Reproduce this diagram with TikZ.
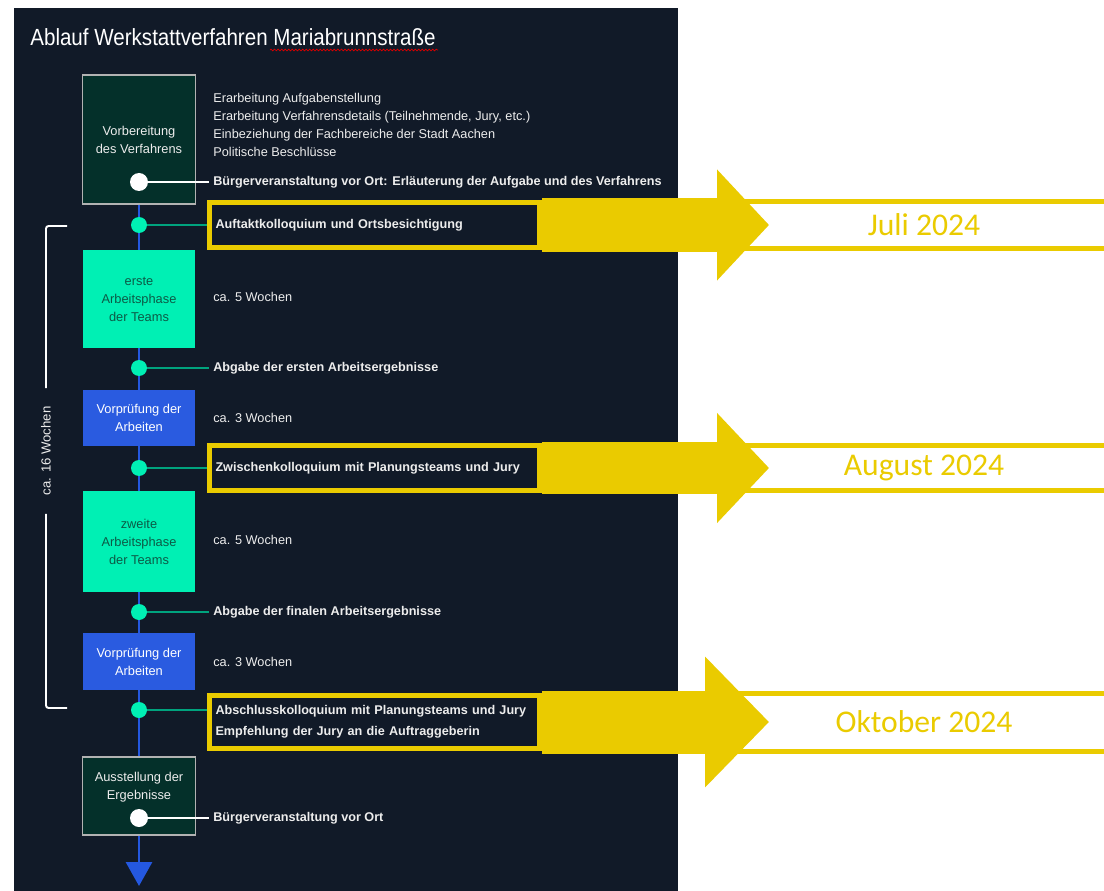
\documentclass[tikz,border=0pt]{standalone}
\usepackage{fontspec}
\setmainfont{Liberation Sans}
\newfontfamily\titlefont{Liberation Sans}[FakeStretch=0.88]
\newfontfamily\datefont{Carlito}
\usetikzlibrary{arrows.meta,decorations.pathmorphing}
\definecolor{panel}{HTML}{111A28}
\definecolor{deepgreen}{HTML}{04302A}
\definecolor{mint}{HTML}{00F0B4}
\definecolor{mintline}{HTML}{00A37E}
\definecolor{spineblue}{HTML}{2458E0}
\definecolor{boxblue}{HTML}{2A5BE0}
\definecolor{gold}{HTML}{EACB00}
\definecolor{phasetext}{HTML}{0C5A46}
\definecolor{softwhite}{HTML}{EDEDED}

\begin{document}
\begin{tikzpicture}[x=0.02cm,y=-0.02cm,
		phase/.style={minimum width=2.26cm,align=center,inner sep=0pt,font=\fontsize{7.3}{10.2}\selectfont},
		dot/.style={circle,fill=mint,minimum size=0.32cm,inner sep=0pt},
		wdot/.style={circle,fill=white,minimum size=0.36cm,inner sep=0pt},
		note/.style={anchor=west,text=softwhite,inner sep=0.08cm,align=left,font=\fontsize{7.25}{10.2}\selectfont},
		keynote/.style={note,font=\bfseries\fontsize{7.2}{11.9}\selectfont},
		kframe/.style={keynote,draw=gold,line width=0.1cm,text width=6.36cm,inner xsep=0.13cm,minimum height=0.9cm},
		datebox/.style={draw=gold,fill=white,line width=0.1cm,minimum width=7.54cm,text=gold,font=\datefont\fontsize{18}{20}\selectfont},
		spine/.style={spineblue,line width=1.7pt},
		tick/.style={mintline,line width=0.8pt},
		wtick/.style={white,line width=0.8pt},
		bracket/.style={white,line width=1.1pt,rounded corners=1.5pt}]
	\useasboundingbox (0,0) rectangle (1104,891);
	\fill[white] (0,0) rectangle (1104,891);
	\fill[panel] (14,8) rectangle (678,891);
	\node[anchor=west,text=white,inner sep=0pt,font=\titlefont\fontsize{13.3}{15}\selectfont] (title) at (30,37) {Ablauf Werkstattverfahren Mariabrunnstraße};
	\draw[red!85!black,line width=0.4pt,decorate,decoration={snake,amplitude=0.5pt,segment length=2pt}] (270,50) -- (438,50);

	\node[phase,fill=deepgreen,draw=gray!60,line width=0.85pt,minimum height=2.58cm,text=softwhite] (prep) at (139,139.5) {Vorbereitung\\des Verfahrens};
	\node[wdot] (w1) at (139,182) {};
	\node[note] (tasks) at (209,125) {Erarbeitung Aufgabenstellung\\Erarbeitung Verfahrensdetails (Teilnehmende, Jury, etc.)\\Einbeziehung der Fachbereiche der Stadt Aachen\\Politische Beschlüsse};
	\node[keynote] (b1) at (209,182) {Bürgerveranstaltung vor Ort: Erläuterung der Aufgabe und des Verfahrens};
	\draw[wtick] (w1) -- (b1);

	\node[dot] (d1) at (139,225) {};
	\node[kframe] (k1) at (206.5,225) {Auftaktkolloquium und Ortsbesichtigung};
	\draw[tick] (d1) -- (k1);
	\node[datebox,minimum height=0.94cm] (jul) at (924,225) {Juli 2024};
	\draw[gold,line width=1.08cm,-{Triangle[width=2.16cm,length=1.04cm]},shorten >=-0.72cm] (k1) -- (jul);

	\node[phase,fill=mint,text=phasetext,minimum height=1.96cm] (ph1) at (139,299) {erste\\Arbeitsphase\\der Teams};
	\node[note] (w5a) at (209,297) {ca. 5 Wochen};
	\node[dot] (d2) at (139,368) {};
	\node[keynote] (a1) at (209,368) {Abgabe der ersten Arbeitsergebnisse};
	\draw[tick] (d2) -- (a1);
	\node[phase,fill=boxblue,text=white,minimum height=1.12cm] (vp1) at (139,418) {Vorprüfung der\\Arbeiten};
	\node[note] (w3a) at (209,418) {ca. 3 Wochen};

	\node[dot] (d3) at (139,468) {};
	\node[kframe] (k2) at (206.5,468) {Zwischenkolloquium mit Planungsteams und Jury};
	\draw[tick] (d3) -- (k2);
	\node[datebox,minimum height=0.9cm] (aug) at (924,468) {August 2024};
	\draw[gold,line width=1.06cm,-{Triangle[width=2.14cm,length=1.04cm]},shorten >=-0.72cm] (k2) -- (aug);

	\node[phase,fill=mint,text=phasetext,minimum height=2.02cm] (ph2) at (139,541.5) {zweite\\Arbeitsphase\\der Teams};
	\node[note] (w5b) at (209,540) {ca. 5 Wochen};
	\node[dot] (d4) at (139,612) {};
	\node[keynote] (a2) at (209,612) {Abgabe der finalen Arbeitsergebnisse};
	\draw[tick] (d4) -- (a2);
	\node[phase,fill=boxblue,text=white,minimum height=1.14cm] (vp2) at (139,661.5) {Vorprüfung der\\Arbeiten};
	\node[note] (w3b) at (209,662) {ca. 3 Wochen};

	\node[dot] (d5) at (139,710) {};
	\node[kframe,minimum height=1.06cm] (k3) at (206.5,722) {Abschlusskolloquium mit Planungsteams und Jury\\Empfehlung der Jury an die Auftraggeberin};
	\draw[tick] (d5) -- (d5 -| k3.west);
	\node[datebox,minimum height=1.16cm] (okt) at (924,722) {Oktober 2024};
	\draw[gold,line width=1.26cm,-{Triangle[width=2.54cm,length=1.28cm]},shorten >=-0.72cm] (k3) -- (okt);

	\node[phase,fill=deepgreen,draw=gray!60,line width=0.85pt,minimum height=1.56cm] (expo) at (139,796) {};
	\node[phase,text=softwhite] (expolbl) at (139,787) {Ausstellung der\\Ergebnisse};
	\node[wdot] (w2) at (139,818) {};
	\node[keynote] (b2) at (209,818) {Bürgerveranstaltung vor Ort};
	\draw[wtick] (w2) -- (b2);

	\draw[spine] (prep) -- (d1) -- (ph1) -- (d2) -- (vp1) -- (d3) -- (ph2) -- (d4) -- (vp2) -- (d5) -- (expo);
	\coordinate (end) at (139,886);
	\draw[spine,-{Triangle[width=0.52cm,length=0.48cm]}] (expo) -- (end);

	\node[rotate=90,text=softwhite,inner xsep=0.36cm,font=\fontsize{7.5}{9}\selectfont] (span) at (46,451) {ca. 16 Wochen};
	\coordinate (bt) at (67,226);
	\coordinate (bb) at (67,708);
	\draw[bracket] (span.east) |- (bt);
	\draw[bracket] (span.west) |- (bb);
\end{tikzpicture}
\end{document}
